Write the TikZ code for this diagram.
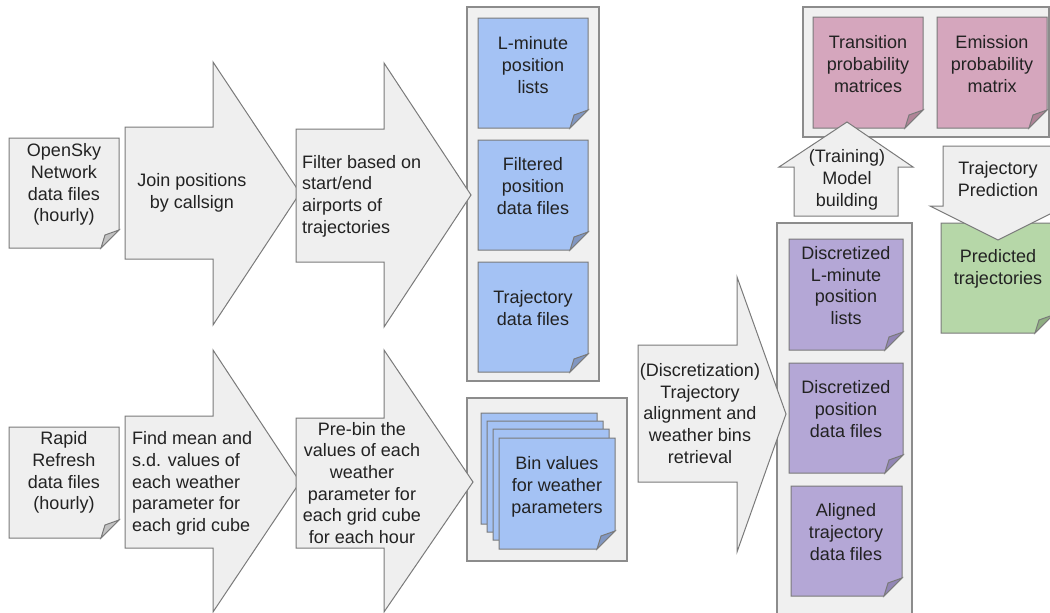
\documentclass[tikz,border=0pt]{standalone}
\usepackage{fontspec}
\setmainfont{Liberation Sans}
\definecolor{arrowfill}{HTML}{EFEFEF}
\definecolor{lineg}{HTML}{7A7A7A}
\definecolor{panelfill}{HTML}{F0F0F0}
\definecolor{panelline}{HTML}{8C8C8C}
\definecolor{blued}{HTML}{A4C2F4}
\definecolor{bluefold}{HTML}{8197C2}
\definecolor{purpled}{HTML}{B4A7D6}
\definecolor{purplefold}{HTML}{9286B5}
\definecolor{pinkd}{HTML}{D5A6BD}
\definecolor{pinkfold}{HTML}{B08497}
\definecolor{greend}{HTML}{B6D7A8}
\definecolor{greenfold}{HTML}{8FAE82}
\definecolor{grayd}{HTML}{EFEFEF}
\definecolor{grayfold}{HTML}{C2C2C2}
\definecolor{textc}{HTML}{222222}
% folded-corner document: fill, fold fill, x1, y1, x2, y2
\newcommand\fdoc[6]{%
  \draw[docline,fill=#1] (#3,#4) -- (#5,#4) -- (#5,#6-18) -- (#5-18,#6) -- (#3,#6) -- cycle;
  \draw[docline,fill=#2] (#5,#6-18) -- (#5-18,#6) -- (#5-14,#6-13) -- cycle;
}
\begin{document}
\begin{tikzpicture}[x=1pt,y=-1pt,line join=miter,
  docline/.style={draw=lineg,line width=1pt},
  arrowshape/.style={draw=lineg,fill=arrowfill,line width=1pt},
  panel/.style={draw=panelline,fill=panelfill,line width=1.2pt},
  txt/.style={font=\fontsize{18}{21.7}\selectfont,align=center,text=textc,inner sep=0pt}]
\useasboundingbox (0,0) rectangle (1050,613);
\clip (0,0) rectangle (1050,613);

% panels
\draw[panel] (467,7) rectangle (599,381);
\draw[panel] (467,398) rectangle (627,561);
\draw[panel] (777,223) rectangle (912,640);
\draw[panel] (803,7) rectangle (1049,137);

% source documents
\fdoc{grayd}{grayfold}{9}{138}{119}{248}
\fdoc{grayd}{grayfold}{9}{427}{119}{538}

% blue documents
\fdoc{blued}{bluefold}{478}{18}{588}{128}
\fdoc{blued}{bluefold}{478}{140}{588}{250}
\fdoc{blued}{bluefold}{478}{262}{588}{372}

% stacked bins
\fdoc{blued}{bluefold}{481}{413}{597}{524}
\fdoc{blued}{bluefold}{487}{421}{603}{532}
\fdoc{blued}{bluefold}{493}{429}{609}{540}
\fdoc{blued}{bluefold}{499}{438}{615}{549}

% purple documents
\fdoc{purpled}{purplefold}{789}{239}{903}{350}
\fdoc{purpled}{purplefold}{789}{363}{903}{473}
\fdoc{purpled}{purplefold}{791}{486}{902}{596}

% pink documents
\fdoc{pinkd}{pinkfold}{813}{17}{923}{128}
\fdoc{pinkd}{pinkfold}{937}{17}{1047}{128}

% green document
\fdoc{greend}{greenfold}{941}{223}{1053}{333}

% block arrows
\draw[arrowshape] (125,127) -- (213,127) -- (213,62) -- (300,193) -- (213,325) -- (213,259) -- (125,259) -- cycle;
\draw[arrowshape] (296,129) -- (384,129) -- (384,63) -- (471,195) -- (384,327) -- (384,262) -- (296,262) -- cycle;
\draw[arrowshape] (125,416) -- (213,416) -- (213,350) -- (300,482) -- (213,612) -- (213,548) -- (125,548) -- cycle;
\draw[arrowshape] (296,418) -- (384,418) -- (384,350) -- (473,482) -- (384,612) -- (384,548) -- (296,548) -- cycle;
\draw[arrowshape] (638,345) -- (737,345) -- (737,277) -- (786,414) -- (737,552) -- (737,482) -- (638,482) -- cycle;
\draw[arrowshape] (847,122) -- (913,167) -- (898,167) -- (898,216) -- (794,216) -- (794,167) -- (779,167) -- cycle;
\draw[arrowshape] (943,146) -- (1053,146) -- (1053,206) -- (1066,206) -- (998,240) -- (930,206) -- (943,206) -- cycle;

% texts
\node[txt] (opensky) at (64,184.5) {OpenSky\\Network\\data files\\(hourly)};
\node[txt] (rapid) at (64,472.5) {Rapid\\Refresh\\data files\\(hourly)};
\node[txt] (join) at (192,193) {Join positions\\by callsign};
\node[txt,align=left,anchor=west] (filter) at (302,196) {Filter based on\\start/end\\airports of\\trajectories};
\node[txt,align=left,anchor=west] (findmean) at (132,483.5) {Find mean and\\s.d. values of\\each weather\\parameter for\\each grid cube};
\node[txt] (prebin) at (362,483) {Pre-bin the\\values of each\\weather\\parameter for\\each grid cube\\for each hour};
\node[txt] (lmin) at (533,65) {L-minute\\position\\lists};
\node[txt] (filtered) at (533,186) {Filtered\\position\\data files};
\node[txt] (trajfiles) at (533,308) {Trajectory\\data files};
\node[txt] (bins) at (557,487) {Bin values\\for weather\\parameters};
\node[txt] (discret) at (700,413.5) {(Discretization)\\Trajectory\\alignment and\\weather bins\\retrieval};
\node[txt] (dlmin) at (846,285.5) {Discretized\\L-minute\\position\\lists};
\node[txt] (dpos) at (846,409) {Discretized\\position\\data files};
\node[txt] (aligned) at (846,532) {Aligned\\trajectory\\data files};
\node[txt] (transition) at (868,64) {Transition\\probability\\matrices};
\node[txt] (emission) at (992,64) {Emission\\probability\\matrix};
\node[txt] (training) at (847,180) {(Training)\\Model\\building};
\node[txt] (prediction) at (998,179) {Trajectory\\Prediction};
\node[txt] (predicted) at (998,269) {Predicted\\trajectories};
\end{tikzpicture}
\end{document}
